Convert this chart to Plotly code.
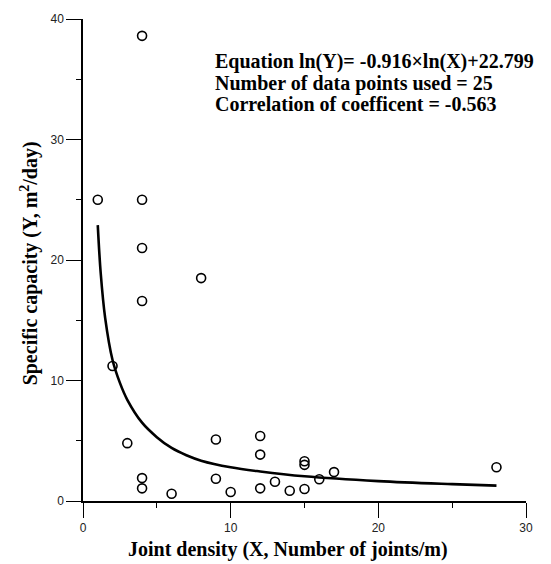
import plotly.graph_objects as go

# Observed data points (joint density X, specific capacity Y)
joint_density = [1, 2, 3, 4, 4, 4, 4, 4, 4, 6, 8, 9, 9, 10, 12, 12, 12, 13, 14, 15, 15, 15, 16, 17, 28]
specific_capacity = [25.0, 11.2, 4.8, 38.6, 25.0, 21.0, 16.6, 1.9, 1.05, 0.6, 18.5, 5.1, 1.85, 0.75,
                     5.4, 3.85, 1.05, 1.6, 0.85, 3.3, 3.0, 1.0, 1.8, 2.4, 2.8]

# Fitted curve
curve_x = [1, 1.2, 1.5, 2, 2.5, 3, 4, 5, 6, 7, 8, 10, 12, 15, 20, 25, 28]
curve_y = [22.9, 18.9, 15.2, 11.7, 9.8, 8.4, 6.5, 5.3, 4.4, 3.8, 3.35, 2.8, 2.45, 2.05, 1.65, 1.4, 1.28]

x_ticks = [0, 10, 20, 30]
y_ticks = [0, 10, 20, 30, 40]

info_lines = [
    "Equation ln(Y)= -0.916×ln(X)+22.799",
    "Number of data points used = 25",
    "Correlation of coefficent = -0.563",
]

serif = "Liberation Serif, Times New Roman, serif"
narrow = "Liberation Sans Narrow, Arial Narrow, Liberation Sans, Arial, sans-serif"

fig = go.Figure()
fig.add_trace(go.Scatter(
    x=curve_x, y=curve_y, mode="lines",
    line=dict(color="black", width=2.6, shape="spline", smoothing=1.0),
    showlegend=False, hoverinfo="skip",
))
fig.add_trace(go.Scatter(
    x=joint_density, y=specific_capacity, mode="markers",
    marker=dict(symbol="circle-open", size=9, color="black", line=dict(width=1.6, color="black")),
    showlegend=False,
))

axis_common = dict(
    showline=True, linecolor="black", linewidth=1.5,
    ticks="outside", ticklen=15, tickwidth=1.3, tickcolor="black",
    showgrid=False, zeroline=False,
    tickfont=dict(family=narrow, size=12, color="#222"),
    minor=dict(ticks="outside", ticklen=5, tickwidth=1.2, tickcolor="black", dtick=5, showgrid=False),
)

fig.update_xaxes(range=[0, 30], tickvals=x_ticks, ticktext=[str(v) for v in x_ticks], **axis_common)
fig.update_yaxes(range=[0, 40], tickvals=y_ticks, ticktext=[str(v) for v in y_ticks], **axis_common)

annotations = [
    dict(text="Joint density (X, Number of joints/m)", xref="paper", yref="paper",
         x=0.463, y=0, xanchor="center", yanchor="middle", yshift=-48, showarrow=False,
         font=dict(family=serif, size=20, color="black", weight="bold")),
    dict(text="Specific capacity (Y, m<sup>2</sup>/day)", xref="paper", yref="paper",
         x=0, y=0.493, xanchor="center", yanchor="middle", xshift=-54, textangle=-90, showarrow=False,
         font=dict(family=serif, size=20, color="black", weight="bold")),
]
info_y = [0.911, 0.867, 0.823]
for txt, yy in zip(info_lines, info_y):
    annotations.append(dict(text=txt, xref="paper", yref="paper", x=0.2935, y=yy,
                            xanchor="left", yanchor="middle", showarrow=False,
                            font=dict(family=serif, size=20, color="black", weight="bold")))

fig.update_layout(
    width=551, height=564,
    margin=dict(l=83, r=25, t=16, b=63),
    plot_bgcolor="white", paper_bgcolor="white",
    annotations=annotations,
)

fig.write_html("out.html",
               config={"displayModeBar": False},
               post_script="document.body.style.margin='0';document.body.style.overflow='hidden';")
